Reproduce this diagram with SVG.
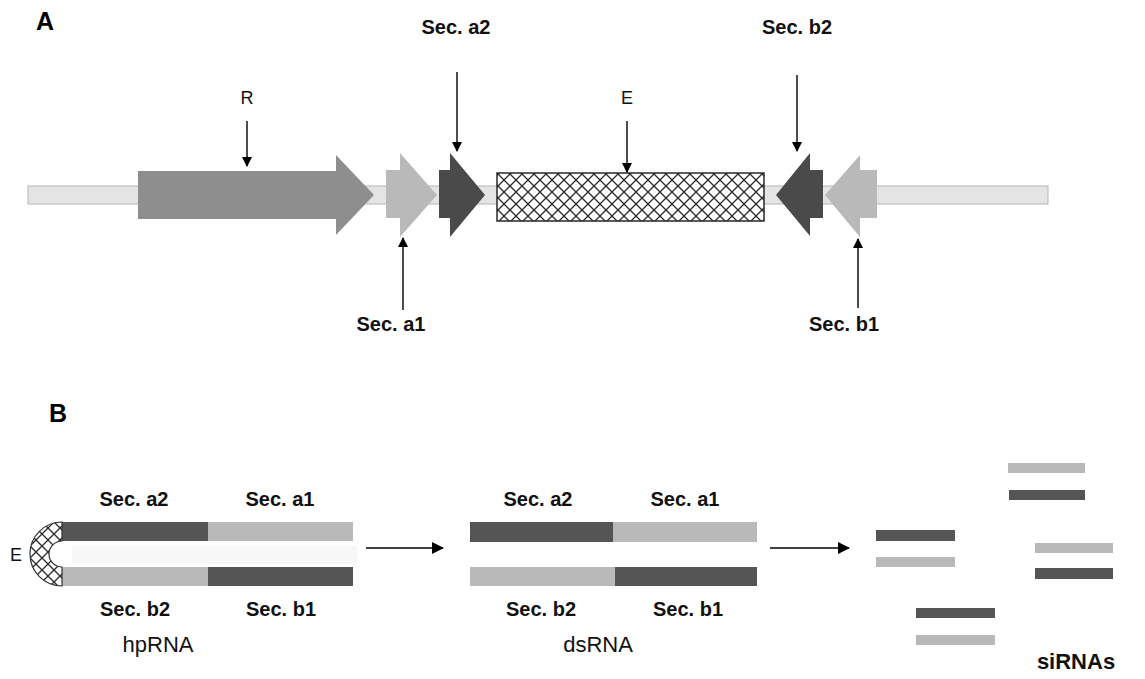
<svg xmlns="http://www.w3.org/2000/svg" width="1145" height="679" viewBox="0 0 1145 679">
<defs>
<pattern id="hatch" patternUnits="userSpaceOnUse" width="12" height="12">
<rect width="12" height="12" fill="#fff"/>
<path d="M0,0 L12,12 M12,0 L0,12" stroke="#2a2a2a" stroke-width="1.3"/>
</pattern>
<marker id="ah" markerWidth="10" markerHeight="12" refX="9" refY="5" orient="auto" markerUnits="userSpaceOnUse">
<path d="M0,0 L10,5 L0,10 Z" fill="#000"/>
</marker>
<marker id="ahs" markerWidth="12" markerHeight="12" refX="11" refY="6" orient="auto" markerUnits="userSpaceOnUse">
<path d="M0,0 L12,6 L0,12 Z" fill="#000"/>
</marker>
</defs>
<style>
.lbl{font-family:"Liberation Sans",Arial,sans-serif;font-weight:bold;font-size:20px;fill:#111;text-anchor:middle}
.lblr{font-family:"Liberation Sans",Arial,sans-serif;font-size:18px;fill:#111;text-anchor:middle}
.panel{font-family:"Liberation Sans",Arial,sans-serif;font-weight:bold;font-size:25px;fill:#000}
.name{font-family:"Liberation Sans",Arial,sans-serif;font-size:22px;fill:#111;text-anchor:middle}
.dark{fill:#555}
.light{fill:#b9b9b9}
.mid{fill:#8e8e8e}
.ptr{stroke:#000;stroke-width:1.4;fill:none;marker-end:url(#ah)}
.flow{stroke:#000;stroke-width:1.6;fill:none;marker-end:url(#ahs)}
</style>
<rect width="1145" height="679" fill="#fff"/>

<text class="panel" x="36" y="30">A</text>
<text class="panel" x="49" y="422">B</text>

<g id="backbone">
<rect x="28" y="186" width="1020" height="18" fill="#e4e4e4" stroke="#b5b5b5" stroke-width="1"/>
</g>
<g id="R">
<polygon class="mid" points="138,171 336,171 336,155 374,195 336,235 336,219 138,219"/>
<text class="lblr" x="247" y="104">R</text>
</g>
<g id="secA1">
<polygon class="light" points="386,170 400,170 400,153 437,195 400,237 400,218 386,218"/>
<text class="lbl" x="391" y="331">Sec. a1</text>
</g>
<g id="secA2">
<polygon points="439,170 450,170 450,153 485,195 450,237 450,218 439,218" fill="#4a4a4a"/>
<text class="lbl" x="456" y="34">Sec. a2</text>
</g>
<g id="E">
<rect x="497" y="173" width="267" height="48" fill="url(#hatch)" stroke="#2a2a2a" stroke-width="1.5"/>
<text class="lblr" x="627" y="104">E</text>
</g>
<g id="secB2">
<polygon points="776,195 810,153 810,170 823,170 823,218 810,218 810,236" fill="#4a4a4a"/>
<text class="lbl" x="797" y="34">Sec. b2</text>
</g>
<g id="secB1">
<polygon class="light" points="825,195 860,155 860,170 877,170 877,218 860,218 860,237"/>
<text class="lbl" x="844" y="331">Sec. b1</text>
</g>

<g id="hpRNA">
<rect x="72" y="546" width="285" height="18" fill="#f7f7f7"/>
<rect class="dark" x="62" y="522" width="146" height="19"/>
<rect class="light" x="208" y="522" width="145" height="19"/>
<rect class="light" x="62" y="567" width="146" height="19"/>
<rect class="dark" x="208" y="567" width="145" height="19"/>
<path d="M62,522 A32,32 0 0 0 62,586 L62,567 A13,13 0 0 1 62,541 Z" fill="url(#hatch)" stroke="#333" stroke-width="1.2"/>
<text class="lblr" x="16" y="561">E</text>
<text class="lbl" x="134" y="506">Sec. a2</text>
<text class="lbl" x="280" y="506">Sec. a1</text>
<text class="lbl" x="135" y="616">Sec. b2</text>
<text class="lbl" x="281" y="616">Sec. b1</text>
<text class="name" x="158" y="652">hpRNA</text>
</g>

<g id="dsRNA">
<rect class="dark" x="470" y="522" width="143" height="20"/>
<rect class="light" x="613" y="522" width="144" height="20"/>
<rect class="light" x="470" y="567" width="145" height="19"/>
<rect class="dark" x="615" y="567" width="142" height="19"/>
<text class="lbl" x="538" y="506">Sec. a2</text>
<text class="lbl" x="685" y="506">Sec. a1</text>
<text class="lbl" x="541" y="616">Sec. b2</text>
<text class="lbl" x="688" y="616">Sec. b1</text>
<text class="name" x="598" y="652">dsRNA</text>
</g>

<g id="siRNAs">
<rect class="light" x="1008" y="463" width="77" height="10"/>
<rect class="dark" x="1009" y="490" width="76" height="10"/>
<rect class="dark" x="876" y="530" width="79" height="11"/>
<rect class="light" x="876" y="557" width="79" height="10"/>
<rect class="light" x="1035" y="543" width="78" height="10"/>
<rect class="dark" x="1035" y="568" width="78" height="11"/>
<rect class="dark" x="916" y="608" width="79" height="10"/>
<rect class="light" x="916" y="635" width="79" height="10"/>
<text class="name" x="1076" y="669" font-weight="bold">siRNAs</text>
</g>

<g id="connectors">
<line class="ptr" x1="247" y1="121" x2="247" y2="166"/>
<line class="ptr" x1="457" y1="72" x2="457" y2="151"/>
<line class="ptr" x1="627" y1="121" x2="627" y2="172"/>
<line class="ptr" x1="797" y1="75" x2="797" y2="151"/>
<line class="ptr" x1="403" y1="310" x2="403" y2="238"/>
<line class="ptr" x1="858" y1="308" x2="858" y2="239"/>
<line class="flow" x1="366" y1="548" x2="443" y2="548"/>
<line class="flow" x1="770" y1="548" x2="849" y2="548"/>
</g>
</svg>
